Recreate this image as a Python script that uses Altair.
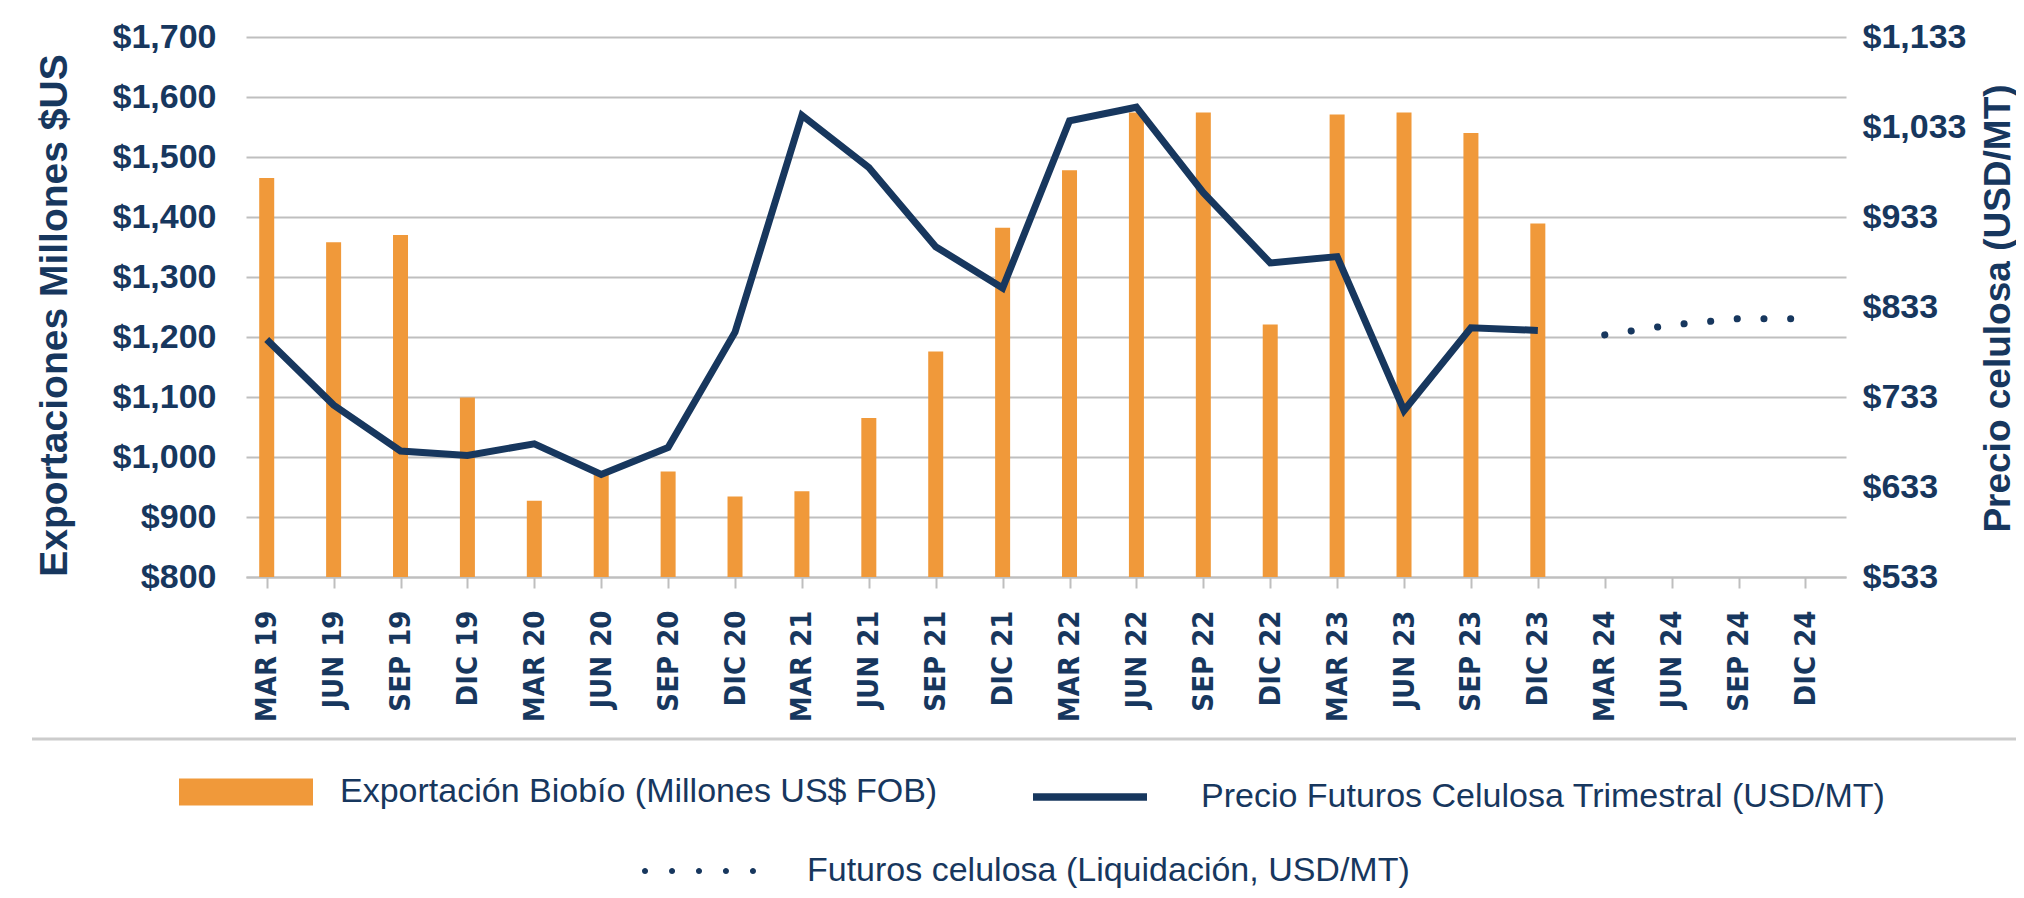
import altair as alt
import pandas as pd

# ---------------- data ----------------
quarters = ["MAR 19", "JUN 19", "SEP 19", "DIC 19",
            "MAR 20", "JUN 20", "SEP 20", "DIC 20",
            "MAR 21", "JUN 21", "SEP 21", "DIC 21",
            "MAR 22", "JUN 22", "SEP 22", "DIC 22",
            "MAR 23", "JUN 23", "SEP 23", "DIC 23",
            "MAR 24", "JUN 24", "SEP 24", "DIC 24"]
export_quarters = quarters[:20]
exports = [1465, 1358, 1370, 1099, 927, 972, 976, 934, 943, 1065,
           1176, 1382, 1478, 1574, 1574, 1221, 1571, 1574, 1540, 1389]
price_quarters = quarters[:20]
price = [797, 724, 673, 668, 681, 647, 677, 805, 1046, 988,
         900, 854, 1040, 1055, 960, 882, 889, 718, 810, 807]
futures_quarters = quarters[20:]
futures = [802, 813, 820, 820]

left_ticks = [800, 900, 1000, 1100, 1200, 1300, 1400, 1500, 1600, 1700]
right_ticks = [533, 633, 733, 833, 933, 1033, 1133]

LAB_BAR = "Exportación Biobío (Millones US$ FOB)"
LAB_LINE = "Precio Futuros Celulosa Trimestral (USD/MT)"
LAB_DOT = "Futuros celulosa (Liquidación, USD/MT)"

# ---------------- style ----------------
ORANGE = "#f0993a"
NAVY = "#17375e"
GRID = "#bfbfbf"
FONT = "Liberation Sans, Arial, sans-serif"
NARROW = "Liberation Sans Narrow, Arial Narrow, DejaVu Sans Condensed, sans-serif"

df_bar = pd.DataFrame({"q": export_quarters, "v": exports, "s": LAB_BAR})
df_line = pd.DataFrame({"q": price_quarters, "p": price, "s": LAB_LINE})
df_dot = pd.DataFrame({"q": futures_quarters, "p": futures, "s": LAB_DOT})

x_axis = alt.Axis(labelAngle=270, labelFont=NARROW, labelFontSize=29, labelFontWeight="bold",
                  labelColor=NAVY, labelPadding=22, tickSize=11, tickColor=GRID, tickWidth=2,
                  domainColor=GRID, domainWidth=2, grid=False, title=None)
x_enc = alt.X("q:N", sort=quarters,
              scale=alt.Scale(type="point", domain=quarters, padding=0.458, align=0.338),
              axis=x_axis)

right_scale = alt.Scale(domain=[533, 1133], zero=False, nice=False)

# dotted legend symbol: five small dots
def dots_path(n=5, r=0.053):
    cs = [-0.947 + i * (2 * 0.947) / (n - 1) for i in range(n)]
    parts = []
    for c in cs:
        parts.append(f"M{c - r:.3f},0A{r},{r} 0 1,0 {c + r:.3f},0A{r},{r} 0 1,0 {c - r:.3f},0Z")
    return "".join(parts)

leg_common = dict(orient="none", title=None, labelFont=FONT, labelFontSize=34,
                  labelColor=NAVY, labelLimit=2000, padding=0)

bars = alt.Chart(df_bar).mark_bar(size=15).encode(
    x=x_enc,
    y=alt.Y("v:Q", scale=alt.Scale(domain=[800, 1700], zero=False, nice=False),
            axis=alt.Axis(values=left_ticks, format="$,.0f", labelFont=FONT, labelFontSize=34,
                          labelFontWeight="bold", labelColor=NAVY, labelPadding=30,
                          ticks=False, domain=False, grid=True, gridColor=GRID, gridWidth=2,
                          title="Exportaciones Millones $US", titleFont=FONT, titleFontSize=39,
                          titleFontWeight="bold", titleColor=NAVY, titleAngle=270,
                          titleBaseline="top", titleAlign="center", titleX=-211, titleY=278)),
    y2=alt.datum(800),
    color=alt.Color("s:N", scale=alt.Scale(domain=[LAB_BAR], range=[ORANGE]),
                    legend=alt.Legend(legendX=-67, legendY=688, symbolType="M-1,-0.2H1V0.2H-1Z",
                                      symbolSize=17956, symbolStrokeWidth=0, symbolOpacity=1,
                                      labelOffset=27, **leg_common)),
)

line = alt.Chart(df_line).mark_line(strokeWidth=7).encode(
    x=x_enc,
    y=alt.Y("p:Q", scale=right_scale,
            axis=alt.Axis(orient="right", values=right_ticks, format="$,.0f", labelFont=FONT,
                          labelFontSize=34, labelFontWeight="bold", labelColor=NAVY,
                          labelPadding=16, ticks=False, domain=False, grid=False,
                          title="Precio celulosa (USD/MT)", titleFont=FONT, titleFontSize=37,
                          titleFontWeight="bold", titleColor=NAVY, titleAngle=270,
                          titleBaseline="top", titleAlign="center", titleX=134, titleY=271)),
    stroke=alt.Stroke("s:N", scale=alt.Scale(domain=[LAB_LINE], range=[NAVY]),
                      legend=alt.Legend(legendX=783, legendY=699, symbolType="stroke",
                                        symbolSize=12996, symbolStrokeWidth=7.5,
                                        labelOffset=50, **leg_common)),
)

dot = alt.Chart(df_dot).mark_line(strokeCap="round").encode(
    x=x_enc,
    y=alt.Y("p:Q", scale=right_scale, axis=None),
    strokeDash=alt.StrokeDash("s:N", scale=alt.Scale(domain=[LAB_DOT], range=[[0.1, 26.6]]),
                              legend=alt.Legend(legendX=396, legendY=777, symbolType=dots_path(),
                                                symbolSize=12996, symbolStrokeWidth=0,
                                                symbolFillColor=NAVY, symbolOpacity=1,
                                                labelOffset=51, **leg_common)),
    strokeWidth=alt.value(7),
    color=alt.value(NAVY),
)

divider = alt.Chart(alt.Data(values=[{"k": 0}])).mark_rule(color="#cccccc", strokeWidth=3).encode(
    x=alt.value(-214), x2=alt.value(1790), y=alt.value(702)
)

chart = alt.layer(bars, line, dot, divider).resolve_scale(
    y="independent"
).properties(
    width=1600, height=540,
    padding={"left": 238, "top": 29, "right": 170, "bottom": 313},
    autosize=alt.AutoSizeParams(type="none"),
).configure_view(strokeWidth=0)

chart.save("out.html", embed_options={"renderer": "svg", "actions": False})
